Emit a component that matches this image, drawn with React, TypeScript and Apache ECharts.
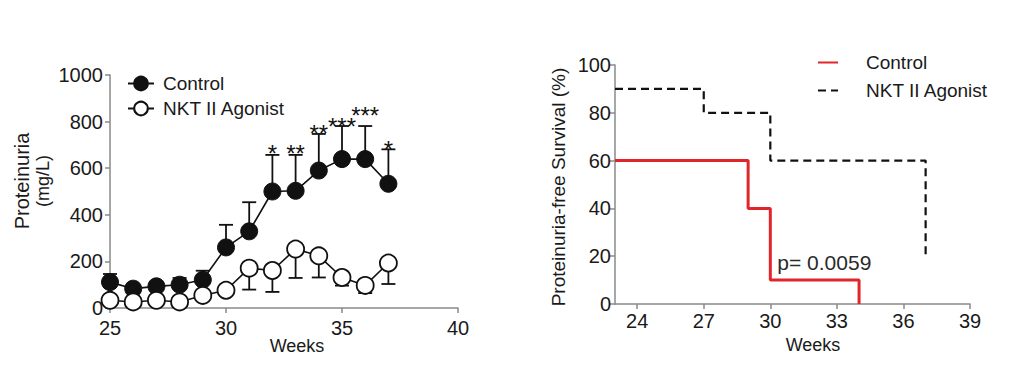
import React, { useEffect, useRef } from "react";
import * as echarts from "echarts";

// Left panel: proteinuria over weeks
const weeks = [25, 26, 27, 28, 29, 30, 31, 32, 33, 34, 35, 36, 37];
const controlMean = [111, 83, 93, 100, 121, 260, 329, 500, 503, 590, 639, 639, 533];
const controlErrTop = [146, null, null, 129, 160, 357, 454, 657, 657, 747, 781, 781, 681];
const nktMean = [33, 26, 33, 26, 54, 76, 171, 161, 253, 224, 131, 97, 193];
const nktErrBottom = [null, null, null, null, null, null, 79, 69, 129, 131, 96, 64, 103];
const starWeeks = [32, 33, 34, 35, 36, 37];
const starLabels = ["*", "**", "**", "***", "***", "*"];
const starLevels = [693, 693, 781, 807, 857, 710];
const leftXTicks = [25, 30, 35, 40];
const leftYTicks = [0, 200, 400, 600, 800, 1000];

// Right panel: Kaplan-Meier proteinuria-free survival
const kmControl = [[23, 60], [29, 60], [29, 40], [30, 40], [30, 10], [34, 10], [34, 0]];
const kmNkt = [[23, 90], [27, 90], [27, 80], [30, 80], [30, 60], [37, 60], [37, 20]];
const rightXTicks = [24, 27, 30, 33, 36, 39];
const pValueText = "p= 0.0059";

const FONT = "Liberation Sans, Arial, sans-serif";
const AXIS_COLOR = "#8a8a8a";
const TEXT_COLOR = "#1a1a1a";

function errorBarSeries(name: string, means: number[], ends: (number | null)[]) {
  const data = weeks
    .map((w, i) => (ends[i] == null ? null : [w, means[i], ends[i]]))
    .filter((d) => d != null);
  return {
    type: "custom",
    name,
    xAxisIndex: 0,
    yAxisIndex: 0,
    z: 1,
    silent: true,
    data,
    renderItem: (params: any, api: any) => {
      const p0 = api.coord([api.value(0), api.value(1)]);
      const p1 = api.coord([api.value(0), api.value(2)]);
      const half = 7;
      return {
        type: "group",
        children: [
          {
            type: "line",
            shape: { x1: p0[0], y1: p0[1], x2: p1[0], y2: p1[1] },
            style: { stroke: "#111", lineWidth: 1.8 },
          },
          {
            type: "line",
            shape: { x1: p1[0] - half, y1: p1[1], x2: p1[0] + half, y2: p1[1] },
            style: { stroke: "#111", lineWidth: 1.8 },
          },
        ],
      };
    },
  };
}

export default function App() {
  const ref = useRef<HTMLDivElement>(null);
  useEffect(() => {
    if (!ref.current) return;
    const chart = echarts.init(ref.current, null, { renderer: "svg" });
    const axisCommon = {
      axisLine: { lineStyle: { color: AXIS_COLOR, width: 1.5 } },
      axisTick: { show: true, length: 5, lineStyle: { color: AXIS_COLOR, width: 1.5 } },
      splitLine: { show: false },
      axisLabel: { color: TEXT_COLOR, fontSize: 20, fontFamily: FONT, margin: 4 },
    };
    chart.setOption({
      animation: false,
      backgroundColor: "#ffffff",
      grid: [
        { left: 110, top: 75, width: 348, height: 233 },
        { left: 615, top: 65, width: 355, height: 239 },
      ],
      xAxis: [
        {
          type: "value",
          gridIndex: 0,
          min: 25,
          max: 40,
          interval: 5,
          ...axisCommon,
          axisLabel: { ...axisCommon.axisLabel, customValues: leftXTicks, margin: 10 },
          axisTick: { ...axisCommon.axisTick, customValues: leftXTicks },
        },
        {
          type: "value",
          gridIndex: 1,
          min: 23,
          max: 39,
          ...axisCommon,
          axisLabel: { ...axisCommon.axisLabel, customValues: rightXTicks, margin: 7 },
          axisTick: { ...axisCommon.axisTick, customValues: rightXTicks },
        },
      ],
      yAxis: [
        {
          type: "value",
          gridIndex: 0,
          min: 0,
          max: 1000,
          interval: 200,
          ...axisCommon,
          axisLabel: {
            ...axisCommon.axisLabel,
            customValues: leftYTicks,
            margin: 7,
            formatter: (v: number) => String(v),
          },
          axisTick: { ...axisCommon.axisTick, customValues: leftYTicks },
        },
        {
          type: "value",
          gridIndex: 1,
          min: 0,
          max: 100,
          interval: 20,
          ...axisCommon,
        },
      ],
      legend: [
        {
          data: ["Control", "NKT II Agonist"],
          orient: "vertical",
          left: 122,
          top: 69,
          itemWidth: 26,
          itemHeight: 17,
          itemGap: 6,
          textStyle: { fontSize: 19, fontFamily: FONT, color: TEXT_COLOR, padding: [0, 0, 0, 4] },
        },
        {
          data: ["Control KM", "NKT II Agonist KM"],
          orient: "vertical",
          left: 812,
          top: 48,
          itemWidth: 20,
          itemHeight: 14,
          itemGap: 9,
          itemStyle: { opacity: 0 },
          formatter: (n: string) => n.replace(" KM", ""),
          textStyle: { fontSize: 19, fontFamily: FONT, color: TEXT_COLOR, padding: [0, 0, 0, 23] },
        },
      ],
      graphic: [
        {
          type: "text",
          x: 22,
          y: 181,
          rotation: Math.PI / 2,
          style: { text: "Proteinuria", font: `20px ${FONT}`, fill: TEXT_COLOR, align: "center", verticalAlign: "middle" },
        },
        {
          type: "text",
          x: 43,
          y: 181,
          rotation: Math.PI / 2,
          style: { text: "(mg/L)", font: `18px ${FONT}`, fill: TEXT_COLOR, align: "center", verticalAlign: "middle" },
        },
        {
          type: "text",
          x: 297,
          y: 346,
          style: { text: "Weeks", font: `18px ${FONT}`, fill: TEXT_COLOR, align: "center", verticalAlign: "middle" },
        },
        {
          type: "text",
          x: 558,
          y: 187,
          rotation: Math.PI / 2,
          style: { text: "Proteinuria-free Survival (%)", font: `19px ${FONT}`, fill: TEXT_COLOR, align: "center", verticalAlign: "middle" },
        },
        {
          type: "text",
          x: 813,
          y: 345,
          style: { text: "Weeks", font: `18px ${FONT}`, fill: TEXT_COLOR, align: "center", verticalAlign: "middle" },
        },
      ],
      series: [
        errorBarSeries("controlErr", controlMean, controlErrTop),
        errorBarSeries("nktErr", nktMean, nktErrBottom),
        {
          type: "line",
          name: "Control",
          xAxisIndex: 0,
          yAxisIndex: 0,
          z: 3,
          data: weeks.map((w, i) => [w, controlMean[i]]),
          symbol: "circle",
          symbolSize: 17,
          lineStyle: { color: "#111", width: 1.6 },
          itemStyle: { color: "#111", borderColor: "#111", borderWidth: 1 },
        },
        {
          type: "line",
          name: "NKT II Agonist",
          xAxisIndex: 0,
          yAxisIndex: 0,
          z: 3,
          data: weeks.map((w, i) => [w, nktMean[i]]),
          symbol: "circle",
          symbolSize: 17,
          lineStyle: { color: "#111", width: 1.6 },
          itemStyle: { color: "#ffffff", borderColor: "#111", borderWidth: 1.8 },
        },
        {
          type: "custom",
          name: "stars",
          xAxisIndex: 0,
          yAxisIndex: 0,
          z: 4,
          silent: true,
          data: starWeeks.map((w, i) => [w, starLevels[i], i]),
          renderItem: (params: any, api: any) => {
            const p = api.coord([api.value(0), api.value(1)]);
            const label = starLabels[api.value(2)];
            return {
              type: "text",
              x: p[0],
              y: p[1] + 7,
              style: {
                text: label,
                font: `24px ${FONT}`,
                fill: "#111",
                align: "center",
                verticalAlign: "middle",
              },
            };
          },
        },
        {
          type: "line",
          name: "Control KM",
          xAxisIndex: 1,
          yAxisIndex: 1,
          data: kmControl,
          symbol: "none",
          lineStyle: { color: "#e0262b", width: 3 },
          itemStyle: { color: "#e0262b" },
          markPoint: {
            silent: true,
            symbol: "rect",
            symbolSize: 0,
            data: [
              {
                coord: [30, 13],
                label: {
                  show: true,
                  formatter: pValueText,
                  position: "right",
                  distance: 0,
                  offset: [7, -10],
                  fontSize: 21,
                  fontFamily: FONT,
                  color: "#2a2a2a",
                  align: "left",
                  verticalAlign: "middle",
                },
              },
            ],
          },
        },
        {
          type: "line",
          name: "NKT II Agonist KM",
          xAxisIndex: 1,
          yAxisIndex: 1,
          data: kmNkt,
          symbol: "none",
          lineStyle: { color: "#111", width: 2.2, type: [8, 5] },
          itemStyle: { color: "#111" },
        },
      ],
    });
    return () => chart.dispose();
  }, []);
  return (
    <div
      ref={ref}
      style={{ position: "absolute", left: 0, top: 0, width: 1030, height: 369, background: "#fff" }}
    />
  );
}
